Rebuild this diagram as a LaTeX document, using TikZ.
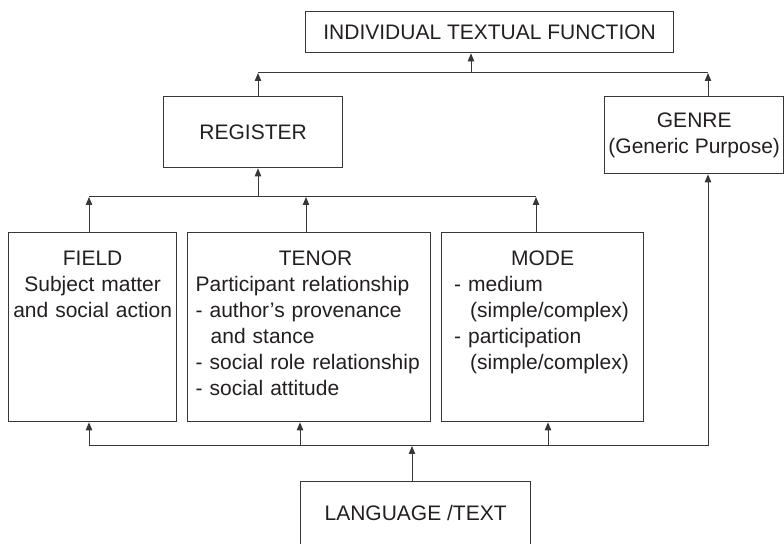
\documentclass[tikz,border=0pt]{standalone}
\usepackage{fontspec}
\setmainfont{Liberation Sans}
\usepackage{tikz}
\usetikzlibrary{arrows.meta, positioning, calc}
\definecolor{mygray}{RGB}{55,55,55}
\definecolor{mytext}{RGB}{35,31,32}
\newcommand{\dfont}{\fontsize{10.5pt}{13pt}\selectfont}
\newcommand{\ind}{\hspace*{7.5pt}}
\tikzset{
  box/.style={rectangle, draw=mygray, line width=0.65pt, align=center,
    inner sep=0pt, text=mytext, font=\dfont, anchor=north west},
  tallbox/.style={box, align=left, inner ysep=8.5pt,
    text height=8pt, text depth=69.5pt},
  arrow/.style={-{Triangle[width=3.2pt,length=4pt]}, line width=0.5pt, color=mygray},
  line/.style={line width=0.5pt, color=mygray}
}

\begin{document}
\begin{tikzpicture}[x=0.5pt, y=-0.5pt]
  \useasboundingbox (0,0) rectangle (784,544);
  \node[box, minimum width=184pt, minimum height=20.5pt] (itf) at (305,11) {INDIVIDUAL TEXTUAL FUNCTION};
  \node[box, minimum width=89.5pt, minimum height=35.5pt] (register) at (163,96) {REGISTER};
  \node[box, minimum width=89.6pt, minimum height=38.5pt] (genre) at (604,96) {GENRE\\(Generic Purpose)};
  \node[tallbox, align=center, inner xsep=2pt, text width=80pt] (field) at (8,232)
    {FIELD\hspace*{15pt}\\Subject matter\\and social action};
  \node[tallbox, inner xsep=4pt, text width=113.5pt] (tenor) at (187,232)
    {{\centering\hspace*{6.5pt}TENOR\par}Participant relationship\\- author’s provenance\\\ind and stance\\- social role relationship\\- social attitude};
  \node[tallbox, inner xsep=6.25pt, text width=88.5pt] (mode) at (441,232)
    {{\centering MODE\par}- medium\\\hspace*{8pt}(simple/complex)\\- participation\\\hspace*{8pt}(simple/complex)};
  \node[box, minimum width=115pt, minimum height=31.5pt] (language) at (300,481) {LANGUAGE /TEXT};

  \coordinate (j1l) at (258,73);
  \coordinate (j1m) at (471,73);
  \coordinate (j1r) at (708,73);
  \draw[line] (j1l) -- (j1r);
  \draw[arrow] (j1m) -- (j1m |- itf.south);
  \draw[arrow] (register.north -| j1l) -- (j1l);
  \draw[arrow] (genre.north -| j1r) -- (j1r);

  \coordinate (j2l) at (89,197);
  \coordinate (j2m) at (258,197);
  \coordinate (j2t) at (306,197);
  \coordinate (j2r) at (536,197);
  \draw[line] (j2l) -- (j2r);
  \draw[arrow] (j2m) -- (register.south -| j2m);
  \draw[arrow] (field.north -| j2l) -- (j2l);
  \draw[arrow] (tenor.north -| j2t) -- (j2t);
  \draw[arrow] (mode.north -| j2r) -- (j2r);

  \coordinate (j3l) at (89,446);
  \coordinate (j3t) at (300,446);
  \coordinate (j3c) at (412,446);
  \coordinate (j3m) at (548,446);
  \coordinate (j3r) at (708,446);
  \draw[line] (j3l) -- (j3r);
  \draw[arrow] (j3l) -- (field.south -| j3l);
  \draw[arrow] (j3t) -- (tenor.south -| j3t);
  \draw[arrow] (j3m) -- (mode.south -| j3m);
  \draw[arrow] (j3r) -- (genre.south -| j3r);
  \draw[arrow] (language.north -| j3c) -- (j3c);
\end{tikzpicture}
\end{document}
